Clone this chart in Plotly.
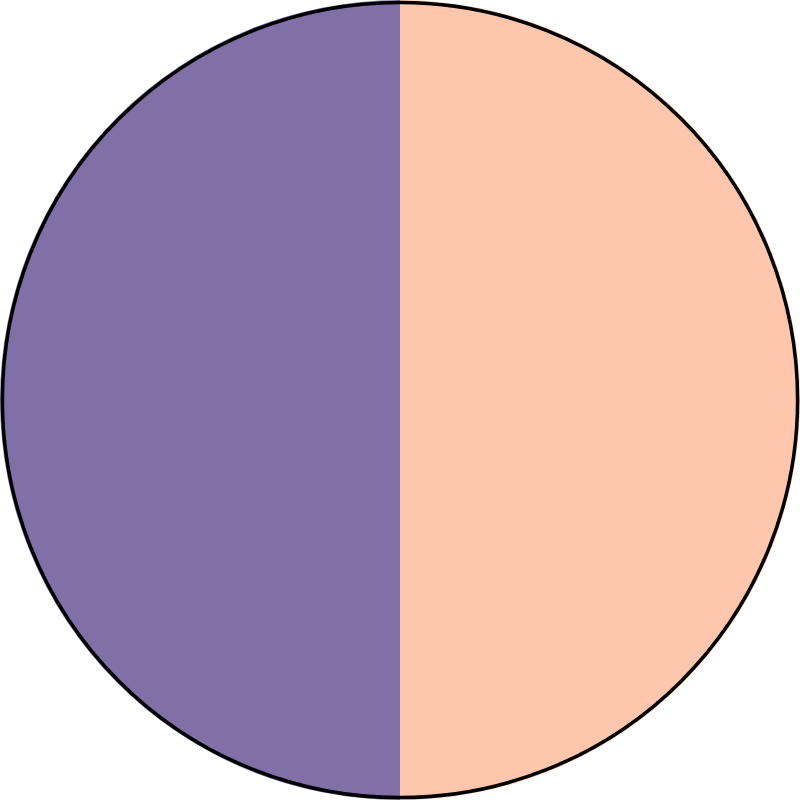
import plotly.graph_objects as go

labels = ["A", "B"]
values = [50, 50]
colors = ["#FEC7AD", "#8170A8"]

fig = go.Figure(go.Pie(
    labels=labels,
    values=values,
    sort=False,
    direction="clockwise",
    rotation=0,
    marker=dict(colors=colors, line=dict(width=0)),
    textinfo="none",
    hoverinfo="label+percent",
))

# black rim round the whole pie, without radial edges
fig.add_shape(type="circle", xref="paper", yref="paper",
              x0=0.003, y0=0.003, x1=0.997, y1=0.997,
              line=dict(color="black", width=3.5))

fig.update_layout(
    width=800, height=800,
    margin=dict(l=0, r=0, t=0, b=0),
    showlegend=False,
    paper_bgcolor="white",
)

# drop the browser's default page margin so the figure sits at 0,0
fig.write_html("out.html",
               config={"displayModeBar": False},
               post_script="document.body.style.margin='0';document.body.style.overflow='hidden';")
